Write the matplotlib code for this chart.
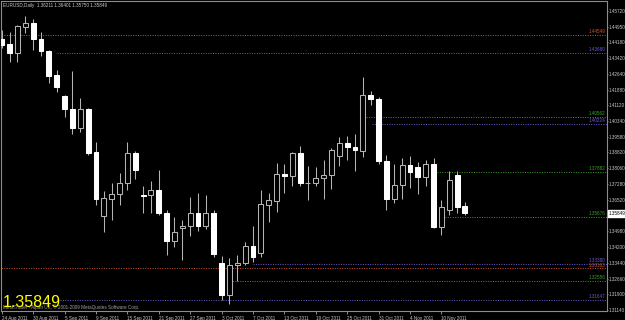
import matplotlib
matplotlib.use("Agg")
import matplotlib.pyplot as plt

# EURUSD daily bars, 24 Aug 2011 .. 15 Nov 2011 (weekdays only)
dates = ["24 Aug 2011", "30 Aug 2011", "5 Sep 2011", "9 Sep 2011", "15 Sep 2011",
         "21 Sep 2011", "27 Sep 2011", "3 Oct 2011", "7 Oct 2011", "13 Oct 2011",
         "19 Oct 2011", "25 Oct 2011", "31 Oct 2011", "4 Nov 2011", "10 Nov 2011"]

opens = [1.4433, 1.4408, 1.4367, 1.4491, 1.4511, 1.4434, 1.4376, 1.4257, 1.4156, 1.4092,
         1.4000, 1.4092, 1.3882, 1.3572, 1.3657, 1.3678, 1.3734, 1.3877, 1.3675, 1.3673,
         1.3699, 1.3585, 1.3452, 1.3514, 1.3524, 1.3586, 1.3524, 1.3586, 1.3342, 1.3187,
         1.3334, 1.3342, 1.3426, 1.3391, 1.3627, 1.3647, 1.3777, 1.3767, 1.3878, 1.3731,
         1.3731, 1.3756, 1.3772, 1.3866, 1.3929, 1.3907, 1.3890, 1.4160, 1.4140, 1.3840,
         1.3656, 1.3723, 1.3821, 1.3812, 1.3761, 1.3825, 1.3520, 1.3601, 1.3772, 1.36211]
highs = [1.4478, 1.4470, 1.4500, 1.4546, 1.4530, 1.4467, 1.4380, 1.4283, 1.4160, 1.4280,
         1.4146, 1.4100, 1.3934, 1.3695, 1.3731, 1.3780, 1.3934, 1.3890, 1.3718, 1.3743,
         1.3796, 1.3600, 1.3567, 1.3553, 1.3666, 1.3686, 1.3676, 1.3600, 1.3379, 1.3366,
         1.3382, 1.3444, 1.3524, 1.3699, 1.3683, 1.3832, 1.3824, 1.3885, 1.3913, 1.3816,
         1.3811, 1.3845, 1.3902, 1.3955, 1.3962, 1.3972, 1.4247, 1.4180, 1.4150, 1.3869,
         1.3824, 1.3853, 1.3864, 1.3837, 1.3845, 1.3853, 1.3650, 1.3793, 1.3793, 1.36401]
lows = [1.4390, 1.4324, 1.4324, 1.4462, 1.4381, 1.4353, 1.4221, 1.4177, 1.4056, 1.3970,
        1.3982, 1.3869, 1.3624, 1.3496, 1.3553, 1.3626, 1.3699, 1.3751, 1.3587, 1.3588,
        1.3578, 1.3382, 1.3423, 1.3358, 1.3475, 1.3500, 1.3510, 1.3370, 1.3163, 1.3142,
        1.3256, 1.3334, 1.3350, 1.3370, 1.3543, 1.3592, 1.3683, 1.3718, 1.3718, 1.3650,
        1.3720, 1.3654, 1.3702, 1.3817, 1.3845, 1.3793, 1.3861, 1.4115, 1.3825, 1.3601,
        1.3634, 1.3654, 1.3707, 1.3679, 1.3718, 1.3515, 1.3480, 1.3577, 1.3588, 1.35750]
closes = [1.4405, 1.4367, 1.4497, 1.4511, 1.4433, 1.4376, 1.4254, 1.4199, 1.4092, 1.4000,
          1.4092, 1.3880, 1.3654, 1.3658, 1.3678, 1.3734, 1.3877, 1.3796, 1.3671, 1.3699,
          1.3585, 1.3452, 1.3496, 1.3524, 1.3586, 1.3524, 1.3586, 1.3385, 1.3187, 1.3334,
          1.3345, 1.3426, 1.3374, 1.3631, 1.3650, 1.3777, 1.3767, 1.3881, 1.3731, 1.3733,
          1.3756, 1.3772, 1.3894, 1.3929, 1.3907, 1.3894, 1.4160, 1.4140, 1.3840, 1.3656,
          1.3723, 1.3821, 1.3788, 1.3761, 1.3825, 1.3520, 1.3615, 1.3748, 1.3617, 1.35849]

# price scale labels on the right
price_ticks = [1.45720, 1.44950, 1.44180, 1.43420, 1.42640, 1.41880, 1.41120, 1.40340,
               1.39580, 1.38820, 1.38060, 1.37280, 1.36520, 1.34980, 1.34200, 1.33440,
               1.32660, 1.31900, 1.31140]

# dotted level lines: price, first bar, colour
levels = [1.44549, 1.43660, 1.40562, 1.40224, 1.37882, 1.35676, 1.33380, 1.33163, 1.32556, 1.31647]
level_start = [-1, 7, 46.4, 47.1, 55.5, 56.5, 32.0, -1, 29.1, 7.4]
level_colors = ["#d0552a", "#6a5acd", "#3ca028", "#6a5acd", "#3ca028",
                "#3ca028", "#6a5acd", "#d0552a", "#3ca028", "#6a5acd"]

bg = "#000000"
fg = "#c8c8c8"
frame = "#8c8c8c"
small = dict(family="Liberation Sans", fontsize=3.3)

fig = plt.figure(figsize=(6.25, 3.2), dpi=100, facecolor=bg)
ax = fig.add_axes([1 / 625, 9 / 320, 606 / 625, 310 / 320], facecolor=bg)

n = len(opens)
x = list(range(n))

# wicks
ax.vlines(x, lows, highs, colors="#b4b4b4", linewidth=0.75, zorder=2)

# bodies: white = down bar, black with outline = up bar
for i in x:
    o, c = opens[i], closes[i]
    lo, hi = min(o, c), max(o, c)
    h = max(hi - lo, 0.00002)
    face = "white" if c < o else bg
    edge = "white" if c < o else "#b4b4b4"
    ax.bar(i, h, bottom=lo, width=0.62, color=face, edgecolor=edge, linewidth=0.75, zorder=3)

# level lines and their labels
for lv, st, col in zip(levels, level_start, level_colors):
    ax.hlines(lv, st, 80, colors=col, linestyles=(0, (1, 1.5)), linewidth=0.7, zorder=1)
    ax.text(76.9, lv + 0.0004, f"{lv:.5f}", color=col, ha="right", va="bottom", **small)

ax.set_xlim(-0.1, 77.1)
ax.set_ylim(1.31091, 1.46193)

ax.yaxis.tick_right()
ax.set_yticks(price_ticks)
ax.set_yticklabels([f"{p:.5f}" for p in price_ticks], **small)
ax.set_xticks(list(range(0, n, 4))[:len(dates)])
ax.set_xticklabels(dates, ha="left", **small)
ax.tick_params(axis="x", colors=frame, labelcolor=fg, length=2.2, width=0.7, pad=1.2)
ax.tick_params(axis="y", colors=frame, labelcolor=fg, length=0.8, width=0.7, pad=0.6)
for s in ax.spines.values():
    s.set_color(frame)
    s.set_linewidth(0.8)

# current price marker on the scale
ax.text(1.002, closes[-1], f"{closes[-1]:.5f}", transform=ax.get_yaxis_transform(),
        color="black", ha="left", va="center",
        bbox=dict(boxstyle="square,pad=0.15", fc="white", ec="white"), zorder=5, **small)

# header and overlay texts
fig.text(3 / 625, 1 - 3 / 320, "EURUSD,Daily  1.36211 1.36401 1.35750 1.35849",
         color=fg, ha="left", va="top", **small)
fig.text(3 / 625, 1 - 309 / 320, "MetaTrader - Alpari UK, \u00a9 2001-2009 MetaQuotes Software Corp.",
         color="#a0a0a0", ha="left", va="baseline", **small)
fig.text(3 / 625, 1 - 307 / 320, f"{closes[-1]:.5f}", color="#ffff00", ha="left",
         va="baseline", family="Liberation Sans", fontsize=11.5)

fig.savefig("out.png", dpi=100, facecolor=bg)
